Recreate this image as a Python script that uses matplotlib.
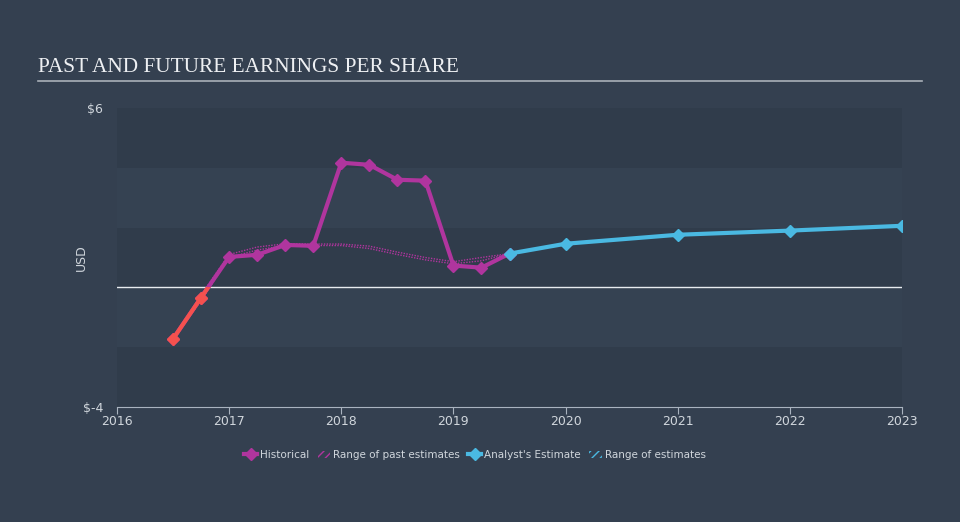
import matplotlib.pyplot as plt
from matplotlib.lines import Line2D
from matplotlib.patches import Patch, Rectangle

# historical EPS (quarterly)
hist_x = [2016.5, 2016.75, 2017.0, 2017.25, 2017.5, 2017.75, 2018.0,
          2018.25, 2018.5, 2018.75, 2019.0, 2019.25, 2019.5]
hist_y = [-1.72, -0.34, 1.02, 1.09, 1.42, 1.39, 4.17,
          4.10, 3.60, 3.57, 0.73, 0.66, 1.13]

# range of past estimates
past_low = [-1.72, -0.45, 1.00, 1.25, 1.40, 1.40, 1.40,
            1.30, 1.10, 0.92, 0.79, 0.89, 1.13]
past_high = [-1.72, -0.25, 1.10, 1.35, 1.46, 1.45, 1.45,
             1.38, 1.18, 1.00, 0.86, 1.00, 1.13]

# analyst estimates
est_x = [2019.5, 2020.0, 2021.0, 2022.0, 2023.0]
est_y = [1.13, 1.46, 1.76, 1.90, 2.06]

years = [2016, 2017, 2018, 2019, 2020, 2021, 2022, 2023]

bg = "#344050"
band_dark = "#303c4b"
band_light = "#354252"
magenta = "#b0359e"
red = "#f5514e"
blue = "#4ab9e2"
text_col = "#d0d6dc"

fig = plt.figure(figsize=(9.6, 5.22), dpi=100, facecolor=bg)
ax = fig.add_axes([117 / 960, 1 - 407 / 522, 785 / 960, 299 / 522])
ax.set_facecolor(bg)

# alternating bands
for i, lo in enumerate(range(-4, 6, 2)):
    ax.axhspan(lo, lo + 2, color=band_dark if i % 2 == 0 else band_light, lw=0, zorder=0)

ax.axhline(0, color="#e8ecf0", lw=1, zorder=1)

# past estimate range
ax.plot(hist_x, past_low, color=magenta, lw=1, ls=(0, (1, 1)), zorder=2)
ax.plot(hist_x, past_high, color=magenta, lw=1, ls=(0, (1, 1)), zorder=2)

# historical line, red where negative
ax.plot(hist_x, hist_y, color=magenta, lw=3, marker="D", ms=6, zorder=3)
red_line, = ax.plot(hist_x, hist_y, color=red, lw=3, marker="D", ms=6, zorder=4)
clip = Rectangle((2015, -10), 10, 10, transform=ax.transData)
red_line.set_clip_path(clip)

# analyst estimate
ax.plot(est_x, est_y, color=blue, lw=3, marker="D", ms=6, zorder=5)

ax.set_xlim(2016, 2023)
ax.set_ylim(-4, 6)
ax.set_xticks(years)
ax.set_xticklabels([str(y) for y in years])
ax.set_yticks([-4, 6])
ax.set_yticklabels(["$-4", "$6"])
ax.tick_params(axis="x", colors="#a9b3bf", labelcolor=text_col, labelsize=9, length=5, pad=1)
ax.tick_params(axis="y", length=0, labelcolor=text_col, labelsize=9, pad=10)
for s in ["top", "right", "left"]:
    ax.spines[s].set_visible(False)
ax.spines["bottom"].set_color("#a9b3bf")
ax.set_ylabel("USD", color=text_col, fontsize=9)
ax.yaxis.set_label_coords((88 - 117) / 785, 0.5)

# title and rule
fig.text(38 / 960, 1 - 67 / 522, "PAST AND FUTURE EARNINGS PER SHARE",
         family="Liberation Serif", fontsize=15.3, color="#eef0f3", va="center")
fig.add_artist(Line2D([38 / 960, 922 / 960], [1 - 81 / 522] * 2, color="#a9b0b8", lw=1.2))

handles = [
    Line2D([], [], color=magenta, lw=3, marker="D", ms=6),
    Patch(facecolor="none", edgecolor=magenta, hatch="////", lw=0),
    Line2D([], [], color=blue, lw=3, marker="D", ms=6),
    Patch(facecolor="none", edgecolor=blue, hatch="////", lw=0),
]
labels = ["Historical", "Range of past estimates", "Analyst's Estimate", "Range of estimates"]
leg = fig.legend(handles, labels, loc="center", bbox_to_anchor=(475 / 960, 1 - 455 / 522),
                 ncol=4, frameon=False, fontsize=7.5, handlelength=1.2, handletextpad=0.3,
                 columnspacing=0.8, labelcolor=text_col)

fig.savefig("out.png", dpi=100, facecolor=bg)
